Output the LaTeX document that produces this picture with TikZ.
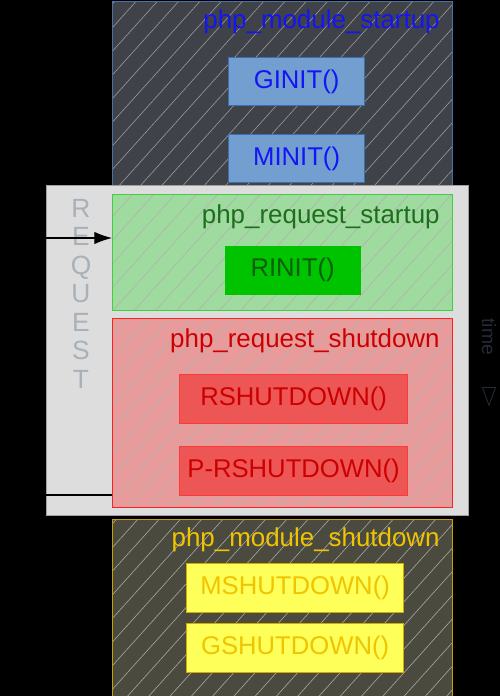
\documentclass[tikz,border=0pt]{standalone}
\usepackage{fontspec}
\setmainfont{Liberation Sans}
\usetikzlibrary{patterns.meta,shapes.geometric,arrows.meta}
\definecolor{msfill}{HTML}{3F4248}\definecolor{msline}{HTML}{4A70A8}
\definecolor{ginfill}{HTML}{729FCF}\definecolor{ginline}{HTML}{3C6EB4}\definecolor{gintext}{HTML}{1414F5}
\definecolor{rqfill}{HTML}{DDDDDD}\definecolor{rqline}{HTML}{A0A0A0}\definecolor{rqtext}{HTML}{A8B0B8}
\definecolor{rsfill}{HTML}{9FDA9F}\definecolor{rsline}{HTML}{44CC44}\definecolor{rstext}{HTML}{1E6E1E}
\definecolor{rinfill}{HTML}{00C300}\definecolor{rintext}{HTML}{0B5E0B}
\definecolor{rdfill}{HTML}{E89B9B}\definecolor{rdline}{HTML}{FF2020}\definecolor{rdtext}{HTML}{CC0000}
\definecolor{rshfill}{HTML}{F04A4A}\definecolor{rshline}{HTML}{FF3838}
\definecolor{mdfill}{HTML}{4B4A3E}\definecolor{mdline}{HTML}{C8A000}\definecolor{mdtext}{HTML}{F0C400}
\definecolor{mshfill}{HTML}{FFFF5A}\definecolor{mshline}{HTML}{D4AA00}
\definecolor{timetext}{HTML}{232A38}
\tikzset{
  phase/.style={anchor=north west, inner sep=0pt, line width=.7pt,
    minimum width=6.8cm, preaction={fill=#1},
    pattern={Lines[angle=48,distance=9pt,line width=.35pt]}},
  call/.style={anchor=north west, inner sep=0pt, line width=.7pt,
    font=\fontsize{14.6}{17}\selectfont},
  title/.style={anchor=base east, inner sep=0pt, font=\fontsize{14.75}{17}\selectfont},
}
\begin{document}
\begin{tikzpicture}[x=0.02cm, y=-0.02cm]
  \fill[black] (0,0) rectangle (500,696);
  \useasboundingbox (0,0) rectangle (500,696);
  % module startup
  \node[phase=msfill, draw=msline, pattern color=black!40, minimum height=3.7cm] (mstart) at (112,1) {};
  \node[title, text=gintext] (mstarttitle) at (440,29) {php\_module\_startup};
  \node[call, fill=ginfill, draw=ginline, text=gintext, minimum width=2.72cm, minimum height=.96cm] (ginit) at (228,57) {GINIT()};
  \node[call, fill=ginfill, draw=ginline, text=gintext, minimum width=2.72cm, minimum height=.96cm] (minit) at (228,134) {MINIT()};
  % request
  \node[anchor=north west, inner sep=0pt, fill=rqfill, draw=rqline, line width=.8pt,
    minimum width=8.44cm, minimum height=6.6cm] (request) at (46,185) {};
  \foreach \ch [count=\i from 0] in {R,E,Q,U,E,S,T}
    \node[anchor=base, inner sep=0pt, text=rqtext, font=\fontsize{15}{17}\selectfont] (req\i) at (81,217+28.5*\i) {\ch};
  \node[phase=rsfill, draw=rsline, pattern color=gray!60, minimum height=2.32cm] (rstart) at (112,194) {};
  \node[title, text=rstext] (rstarttitle) at (440,223) {php\_request\_startup};
  \node[call, fill=rinfill, text=rintext, minimum width=2.72cm, minimum height=.98cm] (rinit) at (224,245) {RINIT()};
  \node[phase=rdfill, draw=rdline, pattern color=gray!60, minimum height=3.78cm] (rshut) at (112,318) {};
  \node[title, text=rdtext] (rshuttitle) at (440,347) {php\_request\_shutdown};
  \node[call, fill=rshfill, fill opacity=.85, text opacity=1, draw=rshline, text=rdtext, minimum width=4.56cm, minimum height=.98cm] (rshutdown) at (179,374) {RSHUTDOWN()};
  \node[call, fill=rshfill, fill opacity=.85, text opacity=1, draw=rshline, text=rdtext, minimum width=4.56cm, minimum height=.98cm] (prshutdown) at (179,446) {P-RSHUTDOWN()};
  % module shutdown
  \node[phase=mdfill, draw=mdline, pattern color=black!35, minimum height=3.54cm] (mshut) at (112,519) {};
  \node[title, text=mdtext] (mshuttitle) at (440,546) {php\_module\_shutdown};
  \node[call, fill=mshfill, draw=mshline, text=mdtext, minimum width=4.34cm, minimum height=.98cm] (mshutdown) at (186,563) {MSHUTDOWN()};
  \node[call, fill=mshfill, draw=mshline, text=mdtext, minimum width=4.34cm, minimum height=.98cm] (gshutdown) at (186,623) {GSHUTDOWN()};
  % request in and out
  \coordinate (in) at (0,238);
  \coordinate (out) at (0,495);
  \draw[-{Latex[length=10pt,width=7pt]}, line width=.6pt] (in) -- (in -| rstart.west);
  \draw[line width=.6pt] (out) -- (out -| rshut.west);
  % time
  \node[rotate=-90, anchor=west, inner sep=0pt, text=timetext, font=\fontsize{11}{13}\selectfont] (time) at (489,318) {time};
  \node[isosceles triangle, shape border rotate=-90, draw=timetext, line width=.5pt,
    inner sep=0pt, minimum width=.26cm, minimum height=.3cm, isosceles triangle apex angle=40] (timetip) at (489,392) {};
\end{tikzpicture}
\end{document}
